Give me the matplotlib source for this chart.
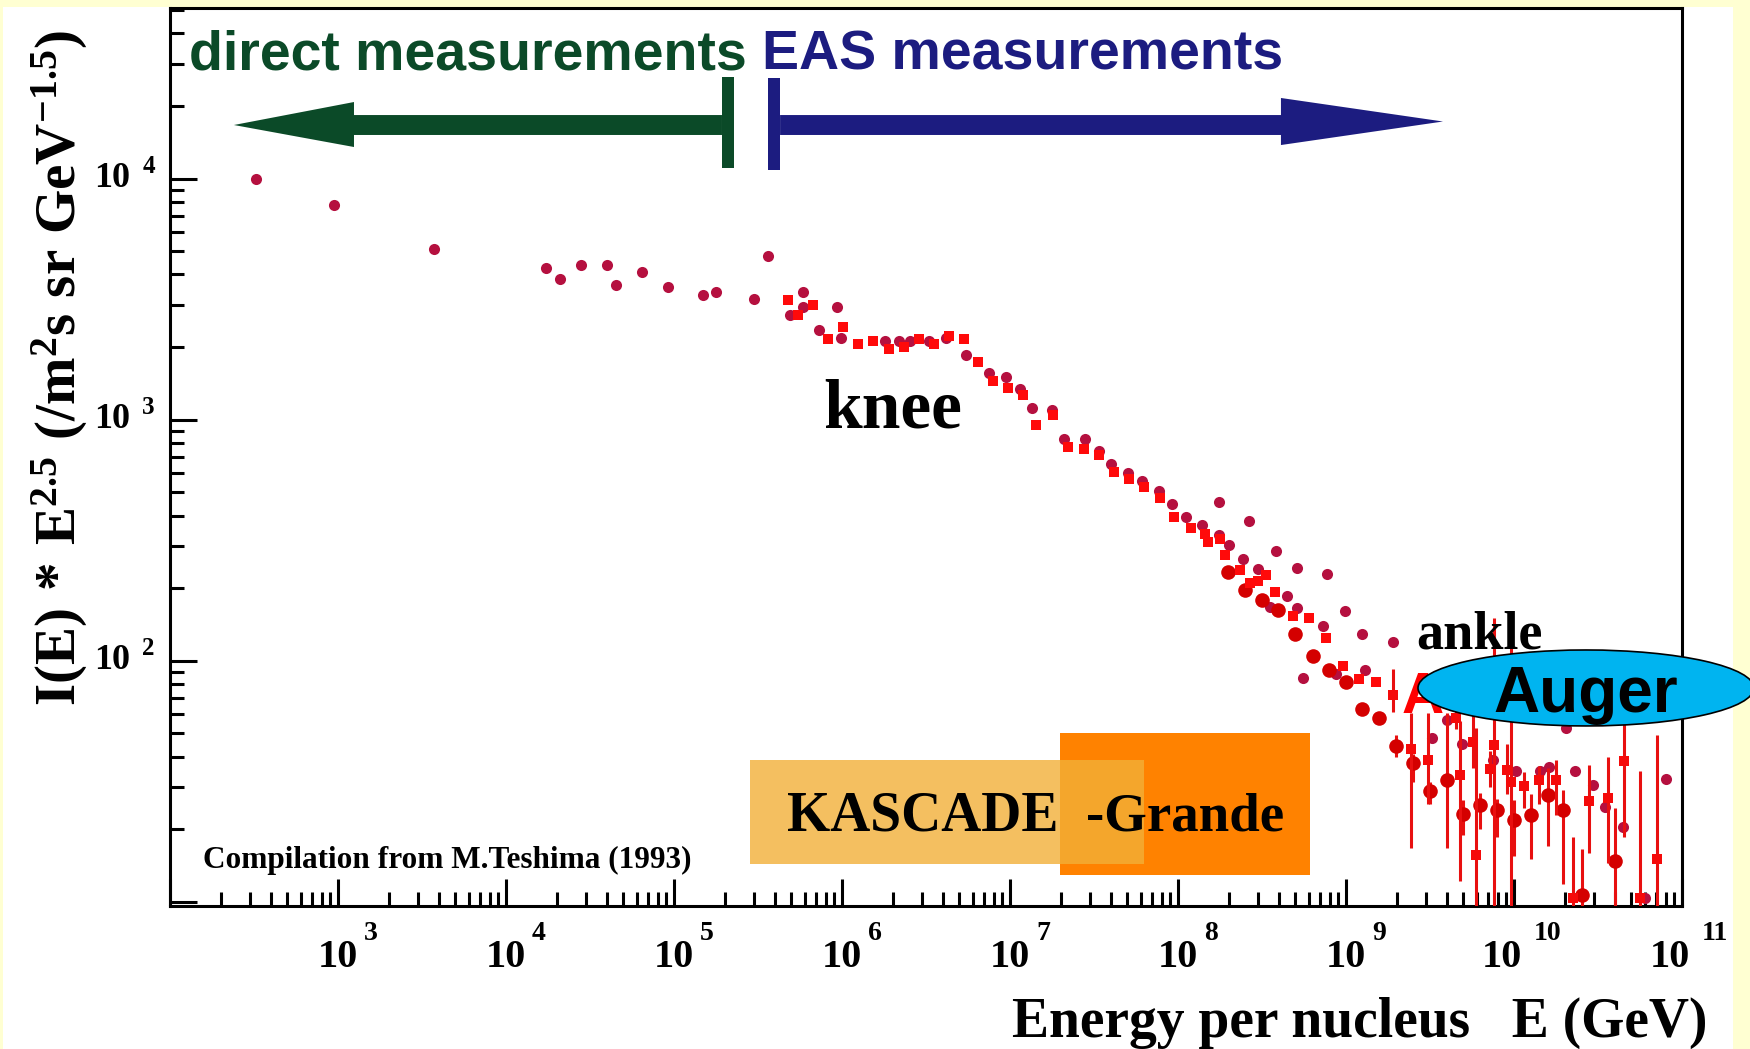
import numpy as np
import matplotlib.pyplot as plt
from matplotlib.patches import Ellipse, Polygon, Rectangle
from matplotlib.ticker import LogLocator, NullFormatter

# all-particle spectrum compilation (M.Teshima 1993)
teshima_E = [325, 942, 3715, 1.74e4, 2.09e4, 2.81e4, 3.99e4, 4.52e4, 6.48e4, 9.2e4,
             1.49e5, 1.77e5, 3.01e5, 3.63e5, 4.9e5, 5.83e5, 5.83e5, 7.33e5, 9.38e5, 9.91e5,
             1.80e6, 2.17e6, 2.54e6, 3.28e6, 4.14e6, 5.47e6, 7.46e6, 9.5e6, 1.15e7, 1.36e7,
             1.79e7, 2.11e7, 2.79e7, 3.39e7, 3.99e7, 5.06e7, 6.13e7, 7.68e7, 9.25e7, 1.12e8,
             1.39e8, 1.75e8, 2.02e8, 2.45e8, 3.01e8, 4.44e8, 5.09e8, 1.75e8, 2.64e8, 3.81e8,
             5.09e8, 7.74e8, 9.87e8, 1.25e9, 1.90e9, 3.53e8, 7.33e8, 5.58e8, 8.71e8, 1.29e9,
             3.24e9, 3.98e9, 4.89e9, 7.54e9, 1.03e10, 1.42e10, 1.62e10, 2.04e10, 2.31e10, 2.97e10,
             3.48e10, 4.48e10, 8.03e10, 6.0e10]
teshima_flux = [10000, 7740, 5120, 4265, 3820, 4395, 4395, 3605, 4110, 3540,
                3280, 3400, 3180, 4755, 2717, 3400, 2940, 2350, 2933, 2183,
                2115, 2115, 2115, 2115, 2183, 1849, 1559, 1500, 1337, 1116,
                1094, 828, 828, 743, 652, 602, 555, 507, 448, 394,
                365, 333, 302, 264, 239, 186, 166, 455, 378, 284,
                242, 229, 160, 129, 119, 167, 139, 85, 88, 91.5,
                47.9, 56.6, 44.9, 38.7, 34.9, 34.8, 36.3, 52.4, 34.8, 30.5,
                24.8, 20.5, 32.3, 10.4]

# air shower array results
eas_E = [4.77e5, 6.75e5, 5.50e5, 1.02e6, 8.22e5, 1.25e6, 1.535e6, 1.91e6, 2.34e6, 2.87e6,
         3.53e6, 4.34e6, 5.32e6, 6.45e6, 7.96e6, 9.68e6, 1.19e7, 1.43e7, 1.80e7, 2.22e7,
         2.75e7, 3.39e7, 4.18e7, 5.08e7, 6.3e7, 7.78e7, 9.46e7, 1.19e8, 1.44e8, 1.51e8,
         1.78e8, 1.91e8, 2.34e8, 2.68e8, 3.01e8, 3.33e8, 3.78e8, 4.81e8, 6.05e8, 7.6e8,
         9.55e8, 1.2e9, 1.51e9]
eas_flux = [3120, 3000, 2710, 2423, 2170, 2055, 2110, 1960, 1995, 2153,
            2061, 2218, 2153, 1742, 1449, 1347, 1267, 949, 1047, 767,
            755, 713, 606, 565, 527, 473, 393, 354, 336, 310,
            320, 275, 237, 210, 215, 227, 193, 153, 150, 124,
            95.3, 84, 81.3]

# highest energies, with errors
uhe_E = [1.9e9, 2.43e9, 3.06e9, 4.52e9, 4.77e9, 5.67e9, 5.98e9, 7.19e9, 7.6e9, 9.04e9,
         9.55e9, 1.14e10, 1.41e10, 1.77e10, 2.23e10, 2.81e10, 3.61e10, 4.52e10, 5.6e10, 7.06e10]
uhe_flux = [72.3, 43.2, 38.7, 58, 33.5, 45.8, 15.7, 35.5, 44.6, 35.1,
            31.5, 30.2, 31.9, 31.9, 10.4, 26.2, 26.9, 38.3, 10.4, 15.1]
uhe_lo = [61.5, 16.7, 25.4, 52, 12.2, 36, 5, 30, 5, 28,
          5, 24.5, 25.4, 23, 5, 16, 14.5, 18.5, 5, 5]
uhe_hi = [92.4, 60.8, 60.8, 65, 56.2, 60, 52.5, 42, 151, 45,
          145, 34.5, 36.4, 38.9, 18.5, 37, 40, 68, 35, 49]

# AGASA
agasa_E = [1.99e8, 2.51e8, 3.15e8, 3.95e8, 4.97e8, 6.34e8, 7.96e8, 1.0e9, 1.25e9, 1.58e9,
           1.99e9, 2.52e9, 3.16e9, 3.98e9, 4.99e9, 6.28e9, 7.96e9, 1.0e10, 1.27e10, 1.6e10,
           1.97e10, 2.53e10, 3.99e10]
agasa_flux = [233, 196, 179, 162, 129, 105, 91.2, 81.6, 63.3, 58,
              44.4, 37.6, 28.8, 31.9, 23.2, 25.3, 24.0, 21.8, 22.9, 27.7,
              24.0, 10.7, 14.8]
agasa_lo = [233, 196, 179, 162, 129, 105, 91.2, 81.6, 63.3, 58,
            40, 31.4, 25.4, 16.7, 19, 20, 18.5, 15.5, 15, 17,
            11.8, 5, 5]
agasa_hi = [233, 196, 179, 162, 129, 105, 91.2, 81.6, 63.3, 58,
            49, 41, 31.4, 60.8, 26.4, 28.3, 26.8, 26.4, 28, 36,
            29, 16.6, 24.5]

# energy ranges covered by KASCADE and KASCADE-Grande
kascade_E = [2.83e5, 6.28e7]
kascade_y = [14.4, 38.9]
grande_E = [1.99e7, 6.1e8]
grande_y = [12.9, 49.9]

x_decades = [3, 4, 5, 6, 7, 8, 9, 10, 11]
y_decades = [2, 3, 4]

SERIF = 'Liberation Serif'
SANS = 'Liberation Sans'
plt.rcParams['mathtext.fontset'] = 'custom'
plt.rcParams['mathtext.rm'] = 'Liberation Serif:bold'
plt.rcParams['mathtext.bf'] = 'Liberation Serif:bold'
plt.rcParams['mathtext.it'] = 'Liberation Serif:bold'

W, H = 1750, 1049
fig = plt.figure(figsize=(W / 100, H / 100), dpi=100, facecolor='#ffffd2')
fig.add_artist(Rectangle((3 / W, 0), 1730 / W, 1042 / H, transform=fig.transFigure,
                         facecolor='white', edgecolor='none', zorder=-10))

ax = fig.add_axes([170 / W, 1 - 906 / H, 1512 / W, 898 / H])
ax.set_xscale('log')
ax.set_yscale('log')
ax.set_xlim(1e2, 1e11)
ax.set_ylim(9.6, 5.1e4)

for axis in (ax.xaxis, ax.yaxis):
    axis.set_major_locator(LogLocator(base=10, numticks=20))
    axis.set_minor_locator(LogLocator(base=10, subs=np.arange(2, 10), numticks=20))
    axis.set_major_formatter(NullFormatter())
    axis.set_minor_formatter(NullFormatter())
ax.tick_params(which='both', direction='in', top=False, right=False, width=2.2, color='black')
ax.tick_params(which='major', length=19.5)
ax.tick_params(which='minor', length=10)
for sp in ax.spines.values():
    sp.set_linewidth(2.2)

# experiment boxes
ax.add_patch(Rectangle((grande_E[0], grande_y[0]), grande_E[1] - grande_E[0],
                       grande_y[1] - grande_y[0], facecolor='#ff8200', edgecolor='none', zorder=1))
ax.add_patch(Rectangle((kascade_E[0], kascade_y[0]), kascade_E[1] - kascade_E[0],
                       kascade_y[1] - kascade_y[0], facecolor='#f2b038', alpha=0.8,
                       edgecolor='none', zorder=1.1))
ax.text(0.4081, 0.0846, 'KASCADE', transform=ax.transAxes, fontsize=40, fontfamily=SERIF,
        fontweight='bold', va='baseline', ha='left', zorder=2)
ax.text(0.6058, 0.0846, '-Grande', transform=ax.transAxes, fontsize=39.5, fontfamily=SERIF,
        fontweight='bold', va='baseline', ha='left', zorder=2)

# data
ax.plot(teshima_E, teshima_flux, 'o', color='#b5103f', ms=8, mew=0, zorder=3)
ax.errorbar(agasa_E, agasa_flux,
            yerr=[np.subtract(agasa_flux, agasa_lo), np.subtract(agasa_hi, agasa_flux)],
            fmt='o', color='#d40000', ecolor='#e81010', ms=10.5, mew=0, elinewidth=2.2,
            capsize=0, zorder=4)
ax.errorbar(uhe_E, uhe_flux,
            yerr=[np.subtract(uhe_flux, uhe_lo), np.subtract(uhe_hi, uhe_flux)],
            fmt='s', color='#f50a0a', ecolor='#e81010', ms=7.5, mew=0, elinewidth=2.2,
            capsize=0, zorder=5)
ax.plot(eas_E, eas_flux, 's', color='#ff0a0a', ms=7.5, mew=0, zorder=5)

# direct / EAS arrows
xt = ax.get_xaxis_transform()
ax.add_patch(Polygon([(240, 0.8697), (1245, 0.8953), (1245, 0.8808), (1.93e5, 0.8808),
                      (1.93e5, 0.8586), (1245, 0.8586), (1245, 0.8452)],
                     closed=True, transform=xt, facecolor='#0b4a28', edgecolor='none'))
ax.add_patch(Rectangle((1.93e5, 0.8218), 2.28e5 - 1.93e5, 0.1014, transform=xt,
                       facecolor='#0b4a28', edgecolor='none'))
ax.add_patch(Polygon([(3.78e9, 0.8736), (4.1e8, 0.8998), (4.1e8, 0.8808), (4.28e5, 0.8808),
                      (4.28e5, 0.8586), (4.1e8, 0.8586), (4.1e8, 0.8474)],
                     closed=True, transform=xt, facecolor='#1c1c80', edgecolor='none'))
ax.add_patch(Rectangle((3.63e5, 0.8196), 4.28e5 - 3.63e5, 0.1024, transform=xt,
                       facecolor='#1c1c80', edgecolor='none'))
ax.text(0.0126, 0.931, 'direct measurements', transform=ax.transAxes, fontsize=40,
        fontfamily=SANS, fontweight='bold', color='#0b4a28', va='baseline')
ax.text(0.3915, 0.931, 'EAS measurements', transform=ax.transAxes, fontsize=40,
        fontfamily=SANS, fontweight='bold', color='#1c1c80', va='baseline')

ax.text(0.4319, 0.5323, 'knee', transform=ax.transAxes, fontsize=50, fontfamily=SERIF,
        fontweight='bold', va='baseline')
ax.text(0.8241, 0.2873, 'ankle', transform=ax.transAxes, fontsize=39, fontfamily=SERIF,
        fontweight='bold', va='baseline', zorder=6)
# AGASA label, mostly covered by the Auger ellipse
ax.text(0.8148, 0.2149, 'A', transform=ax.transAxes, fontsize=42, fontfamily=SANS,
        fontweight='bold', color='#ff0000', va='baseline', zorder=6)
ax.add_patch(Ellipse((0.9365, 0.2428), 0.2222, 0.0846, transform=ax.transAxes,
                     facecolor='#00b4f0', edgecolor='black', lw=1.2, clip_on=False, zorder=7))
ax.text(0.9365, 0.216, 'Auger', transform=ax.transAxes, fontsize=46, fontfamily=SANS,
        fontweight='bold', ha='center', va='baseline', clip_on=False, zorder=8)
ax.text(0.0218, 0.0423, 'Compilation from M.Teshima (1993)', transform=ax.transAxes,
        fontsize=22.5, fontfamily=SERIF, fontweight='bold', va='baseline')

# decade labels
for d in x_decades:
    shift = -9 if d >= 10 else 0
    gap = 8.6 if d >= 10 else 4.3
    ax.annotate('10', xy=(10.0 ** d, 0), xycoords=('data', 'axes fraction'),
                xytext=(shift, -44), textcoords='offset points', ha='center', va='baseline',
                fontsize=29, fontfamily=SERIF, fontweight='bold', annotation_clip=False)
    ax.annotate(str(d), xy=(10.0 ** d, 0), xycoords=('data', 'axes fraction'),
                xytext=(shift + 14.5 + gap, -24.5), textcoords='offset points', ha='left',
                va='baseline', fontsize=20, fontfamily=SERIF, fontweight='bold',
                annotation_clip=False)
for d in y_decades:
    ax.annotate('10', xy=(0, 10.0 ** d), xycoords=('axes fraction', 'data'),
                xytext=(-29, 0), textcoords='offset points', ha='right', va='center',
                fontsize=26, fontfamily=SERIF, fontweight='bold', annotation_clip=False)
    ax.annotate(str(d), xy=(0, 10.0 ** d), xycoords=('axes fraction', 'data'),
                xytext=(-20, 4), textcoords='offset points', ha='left', va='baseline',
                fontsize=18, fontfamily=SERIF, fontweight='bold', annotation_clip=False)

fig.text(1708 / W, 1 - 1037 / H, 'Energy per nucleus   E (GeV)', ha='right', va='baseline',
         fontsize=40, fontfamily=SERIF, fontweight='bold')
fig.text(60 / W, 1 - 368 / H, r'$\mathrm{I(E)\,*\,E^{2.5}\ (/m^{2}s\ sr\ GeV^{-1.5})}$',
         rotation=90, ha='center', va='center', fontsize=41)

fig.savefig('out.png', dpi=100, facecolor=fig.get_facecolor())
